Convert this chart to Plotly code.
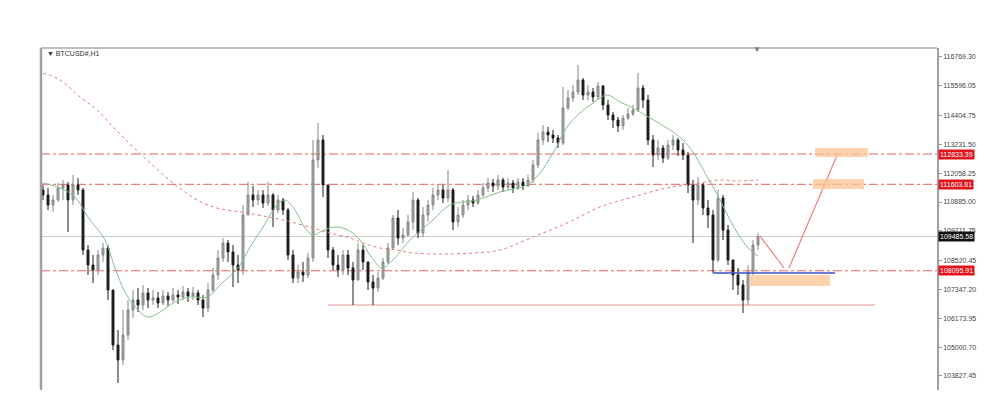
import plotly.graph_objects as go

# ---------------- data (BTCUSD#, H1) ----------------
first_open = 111374
close = [
    111171, 110764, 110967, 111455, 111577, 110967, 111577, 111374, 108939, 108331,
    108128, 108736, 109020, 107316, 105085, 104476, 105490, 106504, 106910, 106707,
    107195, 106910, 106992, 106788, 107073, 106910, 107114, 107032, 107235, 107073,
    107195, 106910, 106585, 107316, 107925, 108615, 109223, 108858, 108331, 108128,
    110358, 111171, 110967, 111171, 110845, 111171, 110561, 110967, 110561, 108736,
    107803, 108047, 107925, 108615, 112591, 113402, 111577, 108939, 108331, 108128,
    108736, 108209, 107722, 108939, 108453, 107641, 107397, 107803, 108453, 109020,
    110237, 109425, 109547, 110075, 110967, 109628, 110358, 110764, 111171, 111374,
    111049, 111374, 110075, 110358, 110764, 110967, 110845, 111171, 111455, 111658,
    111536, 111780, 111496, 111658, 111455, 111699, 111536, 111780, 112388, 113402,
    113726, 113604, 113483, 113280, 114699, 115105, 115349, 115835, 115227, 115349,
    115146, 115592, 114821, 114415, 114213, 113969, 114294, 114456, 114618, 115511,
    115024, 113402, 112793, 113077, 112672, 113199, 113402, 112996, 112793, 111577,
    110967, 111577, 110642, 110358, 108534, 111049, 109750, 108534, 107925, 107519,
    106910, 108047, 109142, 109486,
]
high = [
    111577, 111455, 111171, 111658, 111780, 111699, 111983, 111861, 111455, 109142,
    108736, 108939, 109223, 109142, 107316, 105693, 106504, 106910, 107316, 107397,
    107519, 107397, 107316, 107235, 107316, 107235, 107397, 107316, 107479, 107397,
    107438, 107316, 107114, 107600, 108209, 108939, 109425, 109344, 109142, 108736,
    110764, 111699, 111536, 111374, 111374, 111699, 111252, 111171, 111049, 110642,
    108939, 108331, 108453, 108817, 113402, 114091, 113604, 111577, 109061, 108736,
    108939, 108939, 108453, 109223, 109142, 108453, 107925, 108047, 108615, 109223,
    110358, 110561, 109831, 110358, 111293, 111049, 110683, 110967, 111455, 111577,
    111577, 112185, 111455, 110683, 110967, 111171, 111130, 111374, 111658, 111861,
    111820, 111983, 111861, 111861, 111780, 111861, 111861, 111983, 112591, 113685,
    114010, 113929, 113807, 113604, 115551, 115430, 115633, 116444, 115917, 115633,
    115511, 115754, 115633, 115024, 114537, 114334, 114415, 114699, 114821, 116119,
    115633, 115227, 113604, 113402, 113199, 113402, 113604, 113483, 113280, 112915,
    111780, 111902, 111658, 110967, 110561, 111374, 111171, 109953, 108534, 108209,
    107722, 108331, 109344, 109628,
]
low = [
    110967, 110561, 110480, 110886, 110967, 109669, 110764, 111171, 108736, 107925,
    107600, 107925, 108453, 106910, 104882, 103543, 104273, 105288, 106180, 106423,
    106504, 106585, 106707, 106585, 106707, 106667, 106829, 106748, 106910, 106829,
    106910, 106707, 106220, 106423, 107235, 107722, 108453, 108453, 107438, 107600,
    107925, 110358, 110683, 110764, 110642, 110724, 109872, 110440, 110358, 108534,
    107600, 107600, 107641, 107803, 108453, 112266, 111090, 108615, 108128, 107844,
    107925, 107925, 106707, 107722, 108128, 107316, 106707, 107235, 107722, 108371,
    108939, 109142, 109223, 109466, 109750, 109425, 109466, 110075, 110561, 110967,
    110845, 110886, 109750, 109872, 110237, 110561, 110683, 110764, 111090, 111293,
    111293, 111374, 111293, 111374, 111252, 111374, 111374, 111496, 111658, 112266,
    113199, 113321, 113280, 113077, 113199, 114618, 114943, 115227, 115024, 115024,
    114943, 115024, 114618, 114213, 113888, 113726, 113807, 114213, 114375, 114537,
    114699, 113199, 112307, 112591, 112469, 112591, 112996, 112753, 112591, 111252,
    109223, 110764, 110358, 109831, 108006, 108453, 109344, 108331, 107316, 107114,
    106383, 106707, 107925, 108939,
]
assert len(close) == len(high) == len(low)
bars = list(range(len(close)))
opens = [first_open] + close[:-1]

# fast moving average (green)
ma_fast_x = [0, 3.4, 6.4, 9, 12.4, 14.4, 16.4, 19, 21, 23.4, 26.4, 29.4, 32.8, 35.8, 39,
             41.4, 44, 46.8, 48.4, 50.4, 52.4, 54, 55.8, 58.4, 61, 63.4, 65.8, 67.8, 70,
             73.4, 78, 81.4, 86.8, 91.4, 96.8, 99.4, 102, 104.8, 107.4, 110, 112.8, 115.4,
             118, 121.4, 124.8, 128, 130.4, 132.4, 134, 135.4, 137.4, 139.4, 141.4, 143]
ma_fast_y = [111658, 111455, 111090, 110277, 109344, 108209, 107235, 106504, 106220, 106423,
             106829, 107032, 107032, 107600, 108209, 109061, 109872, 110764, 110967, 110561,
             109831, 109547, 109709, 109872, 109750, 109344, 108615, 108209, 108534, 109344,
             110156, 110764, 110967, 111293, 111577, 112064, 112874, 113929, 114497, 114902,
             115227, 114943, 114699, 114294, 113888, 113402, 112793, 112064, 111496, 110967,
             110156, 109466, 108939, 108696]

# slow moving average (red dotted)
ma_slow_x = [0, 3.4, 7.4, 10.8, 14, 17.4, 20.8, 23.4, 26, 28.4, 30.8, 34.8, 40.8, 48, 54,
             57.4, 61.4, 64, 67.4, 70.8, 74, 79.4, 86, 91.4, 98, 104.8, 111.4, 118, 124.8,
             131.4, 135.4, 138.8, 143]
ma_slow_y = [116119, 115835, 115146, 114618, 113929, 113240, 112591, 112103, 111658, 111293,
             110967, 110642, 110440, 110156, 109831, 109628, 109425, 109223, 109020, 108939,
             108817, 108777, 108817, 108939, 109466, 110034, 110683, 111090, 111455, 111658,
             111780, 111739, 111780]

# price levels
level_red = [112833.39, 111603.81, 108095.91]
level_current = 109485.58
support_line = 106707
support_span = [57, 166.4]
blue_level = 108006
blue_span = [134, 158.4]
zones = [  # (x0, x1, y0, y1)
    (154.4, 165.0, 112711, 113077),
    (154.0, 164.2, 111413, 111820),
    (141.4, 157.4, 107479, 107925),
]
path_x = [143.4, 148.2, None, 149.2, 159.0]
path_y = [109506, 108209, None, 108209, 112874]

tick_vals = [116769.30, 115596.05, 114404.75, 113231.50, 112058.25, 110885.00,
             109711.75, 108520.45, 107347.20, 106173.95, 105000.70, 103827.45]

# ---------------- figure ----------------
fig = go.Figure()

fig.add_trace(go.Candlestick(
    x=bars, open=opens, high=high, low=low, close=close,
    increasing=dict(line=dict(color="#858585", width=1), fillcolor="#a8a8a8"),
    decreasing=dict(line=dict(color="#1c1c1c", width=1), fillcolor="#1c1c1c"),
    whiskerwidth=0, showlegend=False, hoverinfo="skip",
))

fig.add_trace(go.Scatter(x=ma_fast_x, y=ma_fast_y, mode="lines",
                         line=dict(color="#86c08a", width=1, shape="spline"),
                         showlegend=False, hoverinfo="skip"))
fig.add_trace(go.Scatter(x=ma_slow_x, y=ma_slow_y, mode="lines",
                         line=dict(color="#e57a7a", width=1, dash="dot", shape="spline"),
                         showlegend=False, hoverinfo="skip"))

# horizontal levels
for lv in level_red:
    fig.add_shape(type="line", xref="paper", x0=0, x1=1, yref="y", y0=lv, y1=lv,
                  line=dict(color="rgba(225,70,70,0.85)", width=1, dash="dashdot"), layer="below")
fig.add_shape(type="line", xref="paper", x0=0, x1=1, yref="y", y0=level_current, y1=level_current,
              line=dict(color="#cfcfcf", width=1.2), layer="below")
fig.add_shape(type="line", x0=support_span[0], x1=support_span[1], y0=support_line, y1=support_line,
              line=dict(color="#ec9a9a", width=1.2), layer="below")
for x0, x1, y0, y1 in zones:
    fig.add_shape(type="rect", x0=x0, x1=x1, y0=y0, y1=y1,
                  fillcolor="rgba(251,196,145,0.75)", line=dict(width=0), layer="above")
fig.add_shape(type="line", x0=blue_span[0], x1=blue_span[1], y0=blue_level, y1=blue_level,
              line=dict(color="#3c4fc4", width=1.5))
fig.add_trace(go.Scatter(x=path_x, y=path_y, mode="lines",
                         line=dict(color="#e88080", width=1.2),
                         showlegend=False, hoverinfo="skip", connectgaps=False))

# frame
fig.add_shape(type="line", xref="paper", yref="paper", x0=0, x1=1, y0=1, y1=1,
              line=dict(color="#a8a8a8", width=1.5))
fig.add_shape(type="line", xref="paper", yref="paper", x0=0, x1=0, y0=0, y1=1,
              line=dict(color="#a0a0a0", width=2.5))

# price labels on the right
def price_label(val, bg):
    fig.add_annotation(xref="paper", x=1.0, xanchor="left", yref="y", y=val,
                       text=f"{val:.2f}", showarrow=False,
                       font=dict(family="Liberation Sans", size=7, color="white"),
                       bgcolor=bg, borderpad=1, xshift=1)

for lv in level_red:
    price_label(lv, "#e3131b")
price_label(level_current, "#111111")

fig.add_annotation(xref="paper", yref="paper", x=0.005, y=0.985, xanchor="left", yanchor="middle",
                   text="▼ BTCUSD#,H1", showarrow=False,
                   font=dict(family="Liberation Sans", size=7, color="#333333"))
fig.add_annotation(x=142.8, yref="paper", y=1.0, yanchor="middle",
                   text="▼", showarrow=False, font=dict(size=8, color="#777777"))

fig.update_layout(
    width=1000, height=404,
    margin=dict(l=41, r=63, t=48, b=14, autoexpand=False),
    paper_bgcolor="white", plot_bgcolor="white",
    showlegend=False,
    boxgap=0.45,
    xaxis=dict(range=[-0.4, 178.8], visible=False, rangeslider=dict(visible=False),
               showgrid=False, zeroline=False, automargin=False),
    yaxis=dict(range=[103259, 117134], side="right", showgrid=False, zeroline=False,
               automargin=False,
               tickvals=tick_vals, ticktext=[f"{v:.2f}" for v in tick_vals],
               tickfont=dict(family="Liberation Sans", size=7, color="#444444"),
               ticks="outside", ticklen=3, tickcolor="#999999",
               showline=True, linecolor="#a0a0a0", linewidth=1.5),
)

fig.write_html("out.html",
               config={"displayModeBar": False},
               post_script="document.body.style.margin='0';document.body.style.overflow='hidden';")
